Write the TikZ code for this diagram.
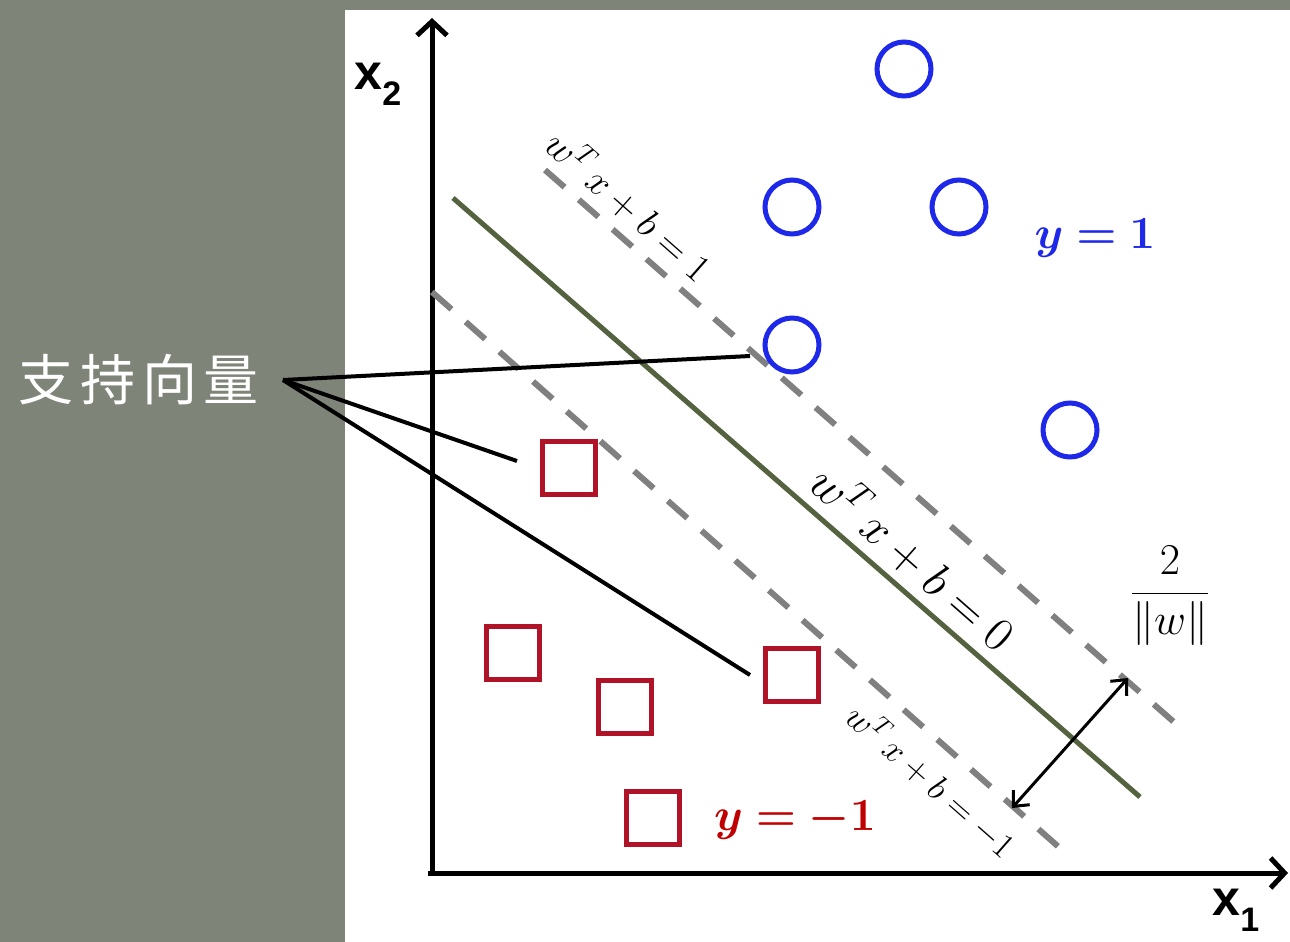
\RequirePackage{fix-cm}
\documentclass[tikz,border=0pt]{standalone}
\usepackage{fontspec}
\usepackage{bm}
\newfontfamily\cjkfont[LetterSpace=12]{Noto Sans CJK SC}
\newfontfamily\axisfont{Liberation Sans}
\usetikzlibrary{arrows.meta}

\definecolor{slidegray}{RGB}{126,132,120}
\definecolor{posblue}{RGB}{30,40,232}
\definecolor{negred}{RGB}{176,18,40}
\definecolor{labred}{RGB}{192,0,0}
\definecolor{hypgreen}{RGB}{84,98,64}
\definecolor{margingray}{RGB}{128,128,128}

\begin{document}
\begin{tikzpicture}[x=1pt,y=-1pt]
        \tikzset{pos point/.style={circle, draw=posblue, line width=5pt,
                    minimum size=54pt, inner sep=0pt},
            neg point/.style={rectangle, draw=negred, line width=5pt,
                    minimum size=53pt, inner sep=0pt},
            axis line/.style={line width=5pt, -{Straight Barb[length=14pt,width=30pt]}},
            margin line/.style={draw=margingray, line width=6pt,
                    dash pattern=on 26pt off 19pt},
            hyper line/.style={draw=hypgreen, line width=5pt},
            sv link/.style={draw=black, line width=4pt},
            line label/.style={rotate=-41.3, inner sep=0pt}}

        \useasboundingbox (0,0) rectangle (1290,942);
        \fill[slidegray] (0,0) rectangle (1290,942);
        \fill[white] (345,10) rectangle (1290,942);

        % axes
        \coordinate (x0) at (428,873);
        \coordinate (x1) at (1288,873);
        \coordinate (y0) at (432,875);
        \coordinate (y1) at (432,18);
        \draw[axis line] (x0) -- (x1);
        \draw[axis line] (y0) -- (y1);
        \node[font=\axisfont\bfseries\fontsize{50}{55}\selectfont, inner sep=0pt]
            (x2lab) at (378,84) {x\raisebox{-0.32em}{\fontsize{34}{38}\selectfont 2}};
        \node[font=\axisfont\bfseries\fontsize{50}{55}\selectfont, inner sep=0pt]
            (x1lab) at (1236,910) {x\raisebox{-0.32em}{\fontsize{34}{38}\selectfont 1}};

        % margins and hyperplane
        \coordinate (m1a) at (545,170);
        \coordinate (m1b) at (1183,730);
        \coordinate (m2a) at (432,292);
        \coordinate (m2b) at (1070,857);
        \coordinate (h0a) at (453,198);
        \coordinate (h0b) at (1140,797);
        \draw[margin line] (m1a) -- (m1b);
        \draw[margin line] (m2a) -- (m2b);
        \draw[hyper line] (h0a) -- (h0b);

        % samples
        \node[pos point] (c1) at (904,69) {};
        \node[pos point] (c2) at (792,207) {};
        \node[pos point] (c3) at (959,207) {};
        \node[pos point] (c4) at (792,345) {};
        \node[pos point] (c5) at (1070,430) {};
        \node[neg point] (s1) at (569,468) {};
        \node[neg point] (s2) at (513,653) {};
        \node[neg point] (s3) at (625,707) {};
        \node[neg point] (s4) at (792,675) {};
        \node[neg point] (s5) at (653,818) {};

        % labels
        \node[line label, font=\fontsize{39}{42}\selectfont] (lab1) at (630,205)
            {$w^T\, x + b = 1$};
        \node[line label, font=\fontsize{48}{52}\selectfont] (lab0) at (914,557)
            {$w^T\, x + b = 0$};
        \node[line label, font=\fontsize{35}{38}\selectfont] (labm1) at (932,780)
            {$w^T\, x + b = -1$};
        \node[text=posblue, font=\fontsize{46}{50}\selectfont] (ypos) at (1095,238)
            {$\bm{y = 1}$};
        \node[text=labred, font=\fontsize{46}{50}\selectfont] (yneg) at (795,820)
            {$\bm{y = -1}$};
        \node[font=\fontsize{44}{48}\selectfont] (gap) at (1170,596)
            {$\displaystyle\frac{2}{\|w\|}$};

        % margin width
        \coordinate (g1) at (1128,678);
        \coordinate (g2) at (1012,808);
        \draw[line width=3pt, {Straight Barb[length=12pt,width=22pt]}-{Straight Barb[length=12pt,width=22pt]}]
            (g2) -- (g1);

        % support vectors
        \node[text=white, font=\cjkfont\fontsize{55}{60}\selectfont,
            inner ysep=0pt, inner xsep=24pt, anchor=east] (sv) at (283,380) {支持向量};
        \coordinate (sv1) at (750,356);
        \coordinate (sv2) at (517,461);
        \coordinate (sv3) at (750,675);
        \draw[sv link] (sv.east) -- (sv1);
        \draw[sv link] (sv.east) -- (sv2);
        \draw[sv link] (sv.east) -- (sv3);
    \end{tikzpicture}
\end{document}
